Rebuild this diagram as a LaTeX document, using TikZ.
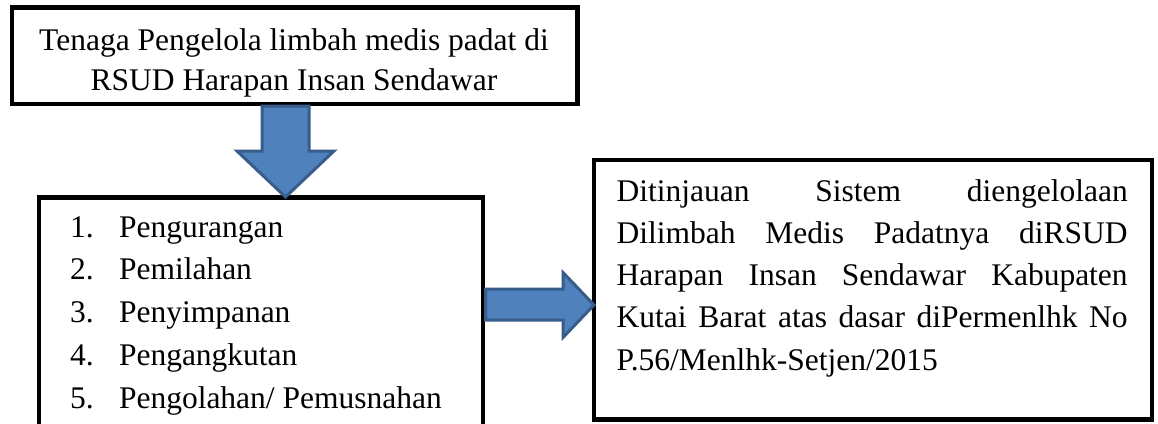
\documentclass[tikz,border=0pt]{standalone}
\usepackage{fontspec}
\setmainfont{Liberation Serif}
\definecolor{arrowfill}{HTML}{4F81BD}
\definecolor{arrowline}{HTML}{385D8A}
\begin{document}
\begin{tikzpicture}[x=1bp,y=-1bp,
  box/.style={draw=black, line width=4.5bp, rectangle, inner sep=0pt, outer sep=0pt, fill=white},
  txt/.style={inner sep=0pt, outer sep=0pt, font=\fontsize{31.5bp}{40bp}\selectfont},
  blockarrow/.style={fill=arrowfill, draw=arrowline, line width=3bp, line join=miter}]
\useasboundingbox (0,0) rectangle (1158,423);
\clip (0,0) rectangle (1158,423);
\fill[white] (0,0) rectangle (1158,423);
% boxes
\node[box, minimum width=565.5bp, minimum height=96.5bp] (top) at (294.75,55.75) {};
\node[box, minimum width=444bp, minimum height=242.5bp] (list) at (261,318.75) {};
\node[box, minimum width=558bp, minimum height=259.5bp] (res) at (873,289.75) {};
% top text
\node[txt, anchor=base] (t1) at (294,50) {Tenaga Pengelola limbah medis padat di};
\node[txt, anchor=base] (t2) at (294,90.7) {RSUD Harapan Insan Sendawar};
% list
\foreach \i/\w in {1/Pengurangan,2/Pemilahan,3/Penyimpanan,4/Pengangkutan,5/{Pengolahan/ Pemusnahan}}{
  \node[txt, anchor=base west] (n\i) at (70,{237+42.8*(\i-1)}) {\i.};
  \node[txt, anchor=base west] (l\i) at (119,{237+42.8*(\i-1)}) {\w};
}
% right text
\node[txt, anchor=base west] (r1) at (616.7,201) {\makebox[511bp][s]{Ditinjauan Sistem diengelolaan}};
\node[txt, anchor=base west] (r2) at (616.7,243.25) {\makebox[511bp][s]{Dilimbah Medis Padatnya diRSUD}};
\node[txt, anchor=base west] (r3) at (616.7,285.5) {\makebox[511bp][s]{Harapan Insan Sendawar Kabupaten}};
\node[txt, anchor=base west] (r4) at (616.7,327.75) {\makebox[511bp][s]{Kutai Barat atas dasar diPermenlhk No}};
\node[txt, anchor=base west] (r5) at (616.7,370) {P.56/Menlhk-Setjen/2015};
% block arrows
\draw[blockarrow] (262,106) -- (309,106) -- (309,151) -- (334,151) -- (285.5,197) -- (237,151) -- (262,151) -- cycle;
\draw[blockarrow] (485.5,289) -- (563,289) -- (563,272.5) -- (594,305) -- (563,337.5) -- (563,320) -- (485.5,320) -- cycle;
\end{tikzpicture}
\end{document}
